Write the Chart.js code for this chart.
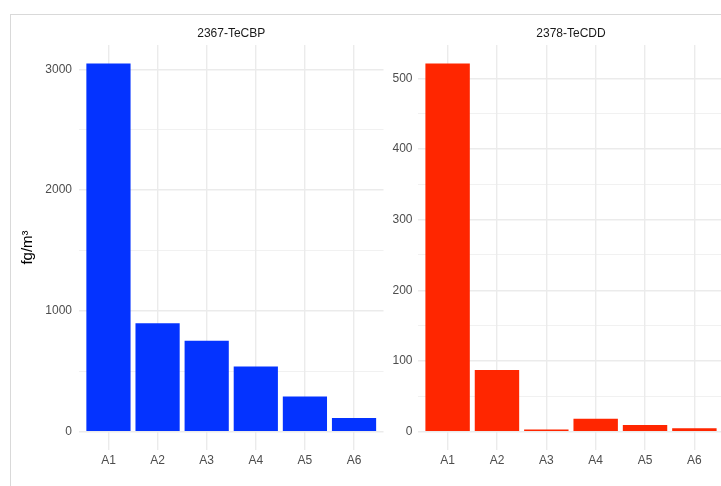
<!DOCTYPE html>
<html>
<head>
<meta charset="utf-8">
<script src="https://cdn.jsdelivr.net/npm/chart.js"></script>
<style>
  html, body { margin: 0; padding: 0; background: #fff; }
  #page { position: relative; width: 721px; height: 486px; overflow: hidden; }
  #card { position: absolute; left: 10px; top: 14px; width: 760px; height: 520px;
          border-left: 1px solid #d9d9d9; border-top: 1px solid #d9d9d9; }
  #c1 { position: absolute; left: 0; top: 0; }
  #c2 { position: absolute; left: 384px; top: 0; }
</style>
</head>
<body>
<div id="page">
  <div id="card"></div>
  <canvas id="c1" width="395" height="486"></canvas>
  <canvas id="c2" width="345" height="486"></canvas>
</div>
<script>
// values
const categories = ["A1", "A2", "A3", "A4", "A5", "A6"];
const tecbpValues = [3050, 898, 752, 540, 290, 113];
const tecddValues = [521, 87, 2.8, 18, 9.5, 4.7];

// y breaks (major + minor), labels only on majors
const tecbpBreaks = [0, 500, 1000, 1500, 2000, 2500, 3000];
const tecbpMajor = 1000;
const tecddBreaks = [0, 50, 100, 150, 200, 250, 300, 350, 400, 450, 500];
const tecddMajor = 100;

Chart.defaults.font.family = '"Liberation Sans", Arial, sans-serif';
Chart.defaults.animation = false;

const GRID = "#EBEBEB";

function makePanel(id, title, values, color, breaks, major, opts) {
  const top = Math.max(...values);
  const pad = top * 0.05; // ggplot-style 5% expansion
  return new Chart(document.getElementById(id), {
    type: "bar",
    data: {
      datasets: [{
        data: values.map((v, i) => ({ x: i + 1, y: v })),
        backgroundColor: color,
        borderWidth: 0,
        barPercentage: 0.9,
        categoryPercentage: 1,
      }],
    },
    options: {
      responsive: false,
      layout: { padding: opts.padding },
      plugins: {
        legend: { display: false },
        tooltip: { enabled: false },
        title: {
          display: true,
          text: title,
          fullSize: false, // center over the plot area, like a facet strip
          color: "#1A1A1A",
          font: { size: 12, weight: "normal" },
          padding: { top: 0, bottom: 4 },
        },
      },
      scales: {
        x: {
          type: "linear",
          offset: false,
          min: 0.4,
          max: categories.length + 0.6,
          afterBuildTicks: (s) => { s.ticks = categories.map((c, i) => ({ value: i + 1 })); },
          afterFit: (s) => { s.height = 25; },
          grid: { color: GRID, lineWidth: 1.4, drawTicks: false, offset: false },
          border: { display: false },
          ticks: {
            autoSkip: false,
            maxRotation: 0,
            padding: 3,
            color: "#4D4D4D",
            font: { size: 12 },
            callback: (v) => categories[v - 1],
          },
        },
        y: {
          min: -pad,
          max: top + pad,
          afterBuildTicks: (s) => { s.ticks = breaks.map((v) => ({ value: v })); },
          afterFit: (s) => { s.width = opts.yWidth; },
          grid: {
            color: GRID,
            drawTicks: false,
            lineWidth: (ctx) => (ctx.tick && ctx.tick.value % major === 0 ? 1.4 : 0.7),
          },
          border: { display: false },
          ticks: {
            padding: opts.tickPad,
            color: "#4D4D4D",
            font: { size: 12 },
            callback: (v) => (v % major === 0 ? v : ""),
          },
          title: opts.yTitle ? {
            display: true,
            text: opts.yTitle,
            color: "#000",
            font: { size: 15 },
            padding: { top: 19, bottom: 0 },
          } : { display: false },
        },
      },
    },
  });
}

makePanel("c1", "2367-TeCBP", tecbpValues, "#0433FF", tecbpBreaks, tecbpMajor, {
  padding: { left: 0, top: 26.6, right: 11.5, bottom: 11 },
  yWidth: 79,
  tickPad: 7,
  yTitle: "fg/m\u00B3",
});

makePanel("c2", "2378-TeCDD", tecddValues, "#FF2600", tecddBreaks, tecddMajor, {
  padding: { left: 0, top: 26.6, right: 5, bottom: 11 },
  yWidth: 34,
  tickPad: 5.5,
});
</script>
</body>
</html>
